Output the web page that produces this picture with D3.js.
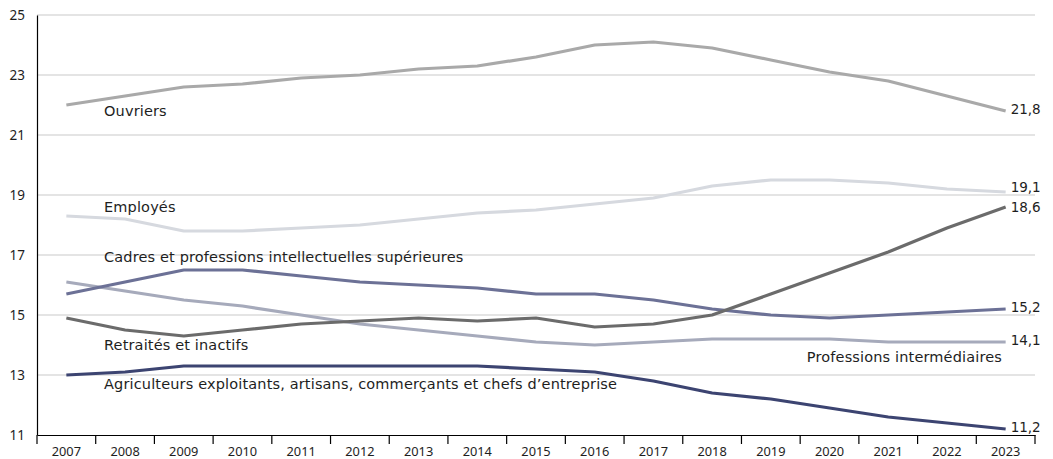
<!DOCTYPE html>
<html>
<head>
<meta charset="utf-8">
<script src="https://cdn.jsdelivr.net/npm/d3@7"></script>
<style>
html,body{margin:0;padding:0;background:#fff;}
svg{display:block;font-family:"DejaVu Sans",sans-serif;}
</style>
</head>
<body>
<svg id="chart" width="1053" height="459"></svg>
<script>
const years = ["2007","2008","2009","2010","2011","2012","2013","2014","2015","2016","2017","2018","2019","2020","2021","2022","2023"];
const yTicks = [11,13,15,17,19,21,23,25];

const ouvriers      = [22.0,22.3,22.6,22.7,22.9,23.0,23.2,23.3,23.6,24.0,24.1,23.9,23.5,23.1,22.8,22.3,21.8];
const employes      = [18.3,18.2,17.8,17.8,17.9,18.0,18.2,18.4,18.5,18.7,18.9,19.3,19.5,19.5,19.4,19.2,19.1];
const retraites     = [14.9,14.5,14.3,14.5,14.7,14.8,14.9,14.8,14.9,14.6,14.7,15.0,15.7,16.4,17.1,17.9,18.6];
const cadres        = [15.7,16.1,16.5,16.5,16.3,16.1,16.0,15.9,15.7,15.7,15.5,15.2,15.0,14.9,15.0,15.1,15.2];
const intermediaires= [16.1,15.8,15.5,15.3,15.0,14.7,14.5,14.3,14.1,14.0,14.1,14.2,14.2,14.2,14.1,14.1,14.1];
const agriculteurs  = [13.0,13.1,13.3,13.3,13.3,13.3,13.3,13.3,13.2,13.1,12.8,12.4,12.2,11.9,11.6,11.4,11.2];

const seriesNames = ["Ouvriers","Employés","Cadres et professions intellectuelles supérieures","Retraités et inactifs","Agriculteurs exploitants, artisans, commerçants et chefs d’entreprise","Professions intermédiaires"];
const endLabels = ["21,8","19,1","15,2","18,6","11,2","14,1"];
// value (on the y scale) at which each series name sits
const labelValues = [21.63, 18.43, 16.78, 13.83, 12.52, 13.44];

const seriesData = [ouvriers, employes, cadres, retraites, agriculteurs, intermediaires];
const colors = ["#a9a9a9","#d6d9df","#6c7196","#6b6b6b","#3c4471","#a6aabb"];

const svg = d3.select("#chart");
const x0 = 37, x1 = 1035, yTop = 15, yBot = 435;
const xBand = d3.scaleBand().domain(years).range([x0, x1]);
const x = d => xBand(d) + xBand.bandwidth()/2;
const y = d3.scaleLinear().domain([11,25]).range([yBot, yTop]);
const textColor = "#1e1e1e";

// grid
svg.append("g").selectAll("line").data(yTicks.filter(t=>t>11)).join("line")
  .attr("x1", x0).attr("x2", x1).attr("y1", d=>y(d)).attr("y2", d=>y(d))
  .attr("stroke", "#c9c9c9").attr("stroke-width", 1);

// y axis
const yAxis = svg.append("g").attr("transform", `translate(${x0},0)`)
  .call(d3.axisLeft(y).tickValues(yTicks).tickSize(0).tickPadding(12));
yAxis.select(".domain").attr("stroke", "#000").attr("stroke-width", 1.2);
yAxis.selectAll("text").attr("font-size", 13.5).attr("fill", textColor)
  .attr("font-family", "Noto Sans, sans-serif").attr("dy", "0.36em");

// x axis with ticks at band boundaries
const xAxis = svg.append("g").attr("transform", `translate(0,${yBot})`)
  .call(d3.axisBottom(xBand).tickSize(0).tickPadding(0));
xAxis.select(".domain").attr("stroke", "#000").attr("stroke-width", 1.2);
xAxis.selectAll("text").attr("font-size", 12.8).attr("fill", textColor)
  .attr("font-family", "Noto Sans, sans-serif").attr("y", 21).attr("dy", 0);
const boundaries = years.map(d => xBand(d)).concat([x1]);
svg.append("g").selectAll("line").data(boundaries).join("line")
  .attr("x1", d=>d).attr("x2", d=>d).attr("y1", yBot).attr("y2", yBot+9)
  .attr("stroke", "#000").attr("stroke-width", 1.2);

// lines
const line = d3.line().x((d,i)=>x(years[i])).y(d=>y(d));
const drawOrder = [0,1,5,2,3,4];
drawOrder.forEach(k => {
  svg.append("path").datum(seriesData[k]).attr("d", line)
    .attr("fill","none").attr("stroke", colors[k]).attr("stroke-width", 3.2)
    .attr("stroke-linejoin","round");
});

// series labels
seriesNames.forEach((name, i) => {
  const right = i === 5;
  svg.append("text").attr("x", right ? 1002 : 104).attr("y", y(labelValues[i]))
    .attr("text-anchor", right ? "end" : "start")
    .attr("font-size", 14.5).attr("letter-spacing", "0.15px")
    .attr("fill", textColor).text(name);
});

// end value labels with simple collision avoidance
const ends = seriesData.map((vals, i) => ({text: endLabels[i], ly: y(vals[vals.length-1])}));
const sorted = ends.slice().sort((a,b)=>a.ly-b.ly);
sorted.forEach(d => d.py = d.ly);
const minGap = 20;
for (let i = 1; i < sorted.length; i++) {
  const gap = sorted[i].py - sorted[i-1].py;
  if (gap < minGap) {
    const shift = (minGap - gap)/2;
    sorted[i-1].py -= shift;
    sorted[i].py += shift;
  }
}
ends.forEach(d => {
  svg.append("text").attr("x", x(years[years.length-1]) + 5).attr("y", d.py + 2.5)
    .attr("font-size", 13.5).attr("fill", textColor).text(d.text);
});
</script>
</body>
</html>
